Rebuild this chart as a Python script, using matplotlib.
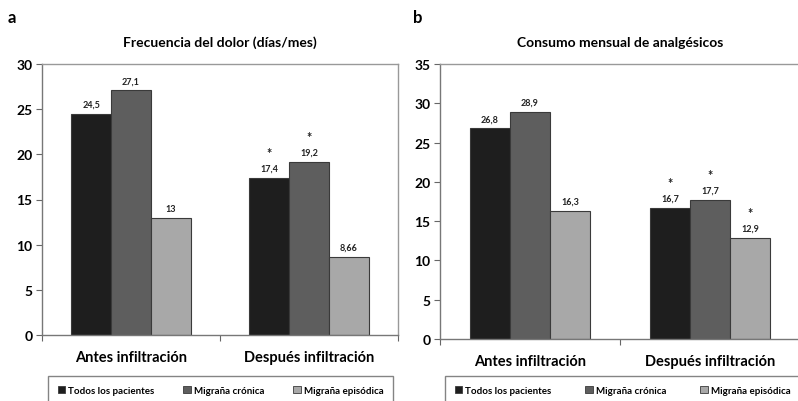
import numpy as np
import matplotlib
matplotlib.use("Agg")
import matplotlib.pyplot as plt
from matplotlib.patches import Patch

plt.rcParams['font.family'] = ['Lato', 'DejaVu Sans']
plt.rcParams['font.weight'] = 'bold'

# --- datos ---
categorias = ['Antes infiltración', 'Después infiltración']
series = ['Todos los pacientes', 'Migraña crónica', 'Migraña episódica']

dolor_todos = [24.5, 17.4]
dolor_cronica = [27.1, 19.2]
dolor_episodica = [13, 8.66]
dolor_labels = [['24,5', '17,4'], ['27,1', '19,2'], ['13', '8,66']]
dolor_asterisco = [[False, True], [False, True], [False, False]]

analg_todos = [26.8, 16.7]
analg_cronica = [28.9, 17.7]
analg_episodica = [16.3, 12.9]
analg_labels = [['26,8', '16,7'], ['28,9', '17,7'], ['16,3', '12,9']]
analg_asterisco = [[False, True], [False, True], [False, True]]

colores = ['#1e1e1e', '#5e5e5e', '#a8a8a8']
W, H = 798, 402

fig = plt.figure(figsize=(W / 100, H / 100), dpi=100)


def panel(rect, valores, labels, asteriscos, ymax, titulo, letra, letra_x, leg_rect):
    ax = fig.add_axes(rect)
    x = np.arange(len(categorias))
    bw = 0.223
    for i, vals in enumerate(valores):
        pos = x + (i - 1) * bw
        ax.bar(pos, vals, bw, color=colores[i], edgecolor='#3a3a3a', linewidth=0.8)
        for j, v in enumerate(vals):
            ax.text(pos[j], v + ymax * 0.018, labels[i][j], ha='center', va='bottom',
                    fontsize=6.5, fontweight='bold', color='#222222')
            if asteriscos[i][j]:
                ax.text(pos[j], v + ymax * 0.068, '*', ha='center', va='bottom',
                        fontsize=9, fontweight='bold', color='#222222')
    ax.set_xlim(-0.5, 1.5)
    ax.set_ylim(0, ymax)
    ax.set_yticks(np.arange(0, ymax + 1, 5))
    ax.set_xticks([-0.5, 0.5, 1.5])
    ax.set_xticklabels([])
    ax.set_xticks(x, minor=True)
    ax.set_xticklabels(categorias, minor=True, fontsize=10.5, fontweight='bold')
    ax.tick_params(axis='x', which='minor', length=0, pad=11)
    ax.tick_params(axis='x', which='major', direction='out', length=4, color='#666666')
    ax.tick_params(axis='y', direction='out', length=4, color='#666666', labelsize=10, pad=3)
    for s in ['left', 'bottom']:
        ax.spines[s].set_color('#777777')
        ax.spines[s].set_linewidth(1.0)
    for s in ['top', 'right']:
        ax.spines[s].set_color('#999999')
        ax.spines[s].set_linewidth(1.0)
    for lbl in ax.get_yticklabels():
        lbl.set_fontweight('bold')
    ax.set_title(titulo, fontsize=10, fontweight='bold', pad=13)
    fig.text(letra_x / W, 1 - 18 / H, letra, fontsize=12, fontweight='bold', va='center')
    handles = [Patch(facecolor=c, edgecolor='#3a3a3a', linewidth=0.6) for c in colores]
    fig.legend(handles, series, loc='upper left', ncol=3, mode='expand',
               bbox_to_anchor=leg_rect, bbox_transform=fig.transFigure,
               frameon=True, fancybox=False, edgecolor='#666666',
               handlelength=0.8, handleheight=0.8, handletextpad=0.3,
               borderpad=1.0, prop={'weight': 'bold', 'size': 7})
    return ax


panel([42 / W, 1 - 336 / H, 356 / W, 271 / H],
      [dolor_todos, dolor_cronica, dolor_episodica], dolor_labels, dolor_asterisco,
      30, 'Frecuencia del dolor (días/mes)', 'a', 8,
      (43 / W, 1 - 372 / H - 0.1, 355 / W, 0.1))

panel([440 / W, 1 - 340 / H, 360 / W, 275 / H],
      [analg_todos, analg_cronica, analg_episodica], analg_labels, analg_asterisco,
      35, 'Consumo mensual de analgésicos', 'b', 413,
      (440 / W, 1 - 372 / H - 0.1, 365 / W, 0.1))

fig.savefig('out.png', dpi=100)
